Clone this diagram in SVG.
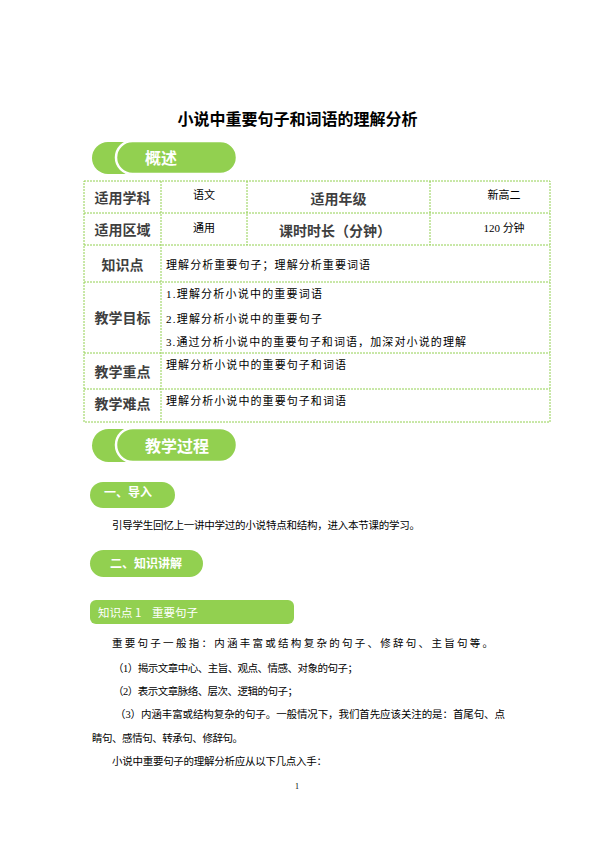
<svg xmlns="http://www.w3.org/2000/svg" width="595" height="842" viewBox="0 0 595 842">
<style>
.bg{fill:#ffffff}
.pill{fill:#92d050}
.ring{fill:#92d050;stroke:#ffffff;stroke-width:2.5}
.ptxt{font-family:"Noto Sans CJK SC","Liberation Sans",sans-serif;font-weight:bold;fill:#ffffff}
.title{font-family:"Noto Sans CJK SC","Liberation Sans",sans-serif;font-weight:bold;font-size:16px;fill:#000000}
.grid{stroke:#92d050;stroke-width:1;stroke-dasharray:2 1;fill:none}
.lab{font-family:"Noto Sans CJK SC","Liberation Sans",sans-serif;font-weight:bold;font-size:14px;fill:#3f3f3f;text-anchor:middle}
.cell{font-family:"Liberation Serif","Noto Sans CJK SC",serif;font-size:11px;fill:#000000}
.body{font-family:"Liberation Serif","Noto Sans CJK SC",serif;font-size:10.5px;fill:#000000}
.kp{font-family:"Noto Sans CJK SC","Liberation Sans",sans-serif;font-size:11.5px;fill:#ffffff}
</style>
<rect class="bg" x="0" y="0" width="595" height="842"/>

<g id="title">
<text class="title" x="297.5" y="125" text-anchor="middle">小说中重要句子和词语的理解分析</text>
</g>

<g id="pill-overview">
<rect class="pill" x="92" y="142" width="80" height="32" rx="16"/>
<rect class="ring" x="116" y="141" width="121" height="33" rx="16.5"/>
<text class="ptxt" x="145" y="164" font-size="16">概述</text>
</g>

<g id="table">
<rect class="grid" x="84" y="181" width="466" height="241"/>
<g class="grid">
<line x1="84" y1="213" x2="550" y2="213"/>
<line x1="84" y1="245" x2="550" y2="245"/>
<line x1="84" y1="282" x2="550" y2="282"/>
<line x1="84" y1="353" x2="550" y2="353"/>
<line x1="84" y1="389" x2="550" y2="389"/>
<line x1="161" y1="181" x2="161" y2="422"/>
<line x1="247" y1="181" x2="247" y2="245"/>
<line x1="430" y1="181" x2="430" y2="245"/>
</g>
<text class="lab" x="122.5" y="203">适用学科</text>
<text class="cell" x="204" y="199" text-anchor="middle">语文</text>
<text class="lab" x="338.5" y="204">适用年级</text>
<text class="cell" x="504" y="199" text-anchor="middle">新高二</text>
<text class="lab" x="122.5" y="235">适用区域</text>
<text class="cell" x="204" y="232" text-anchor="middle">通用</text>
<text class="lab" x="335" y="236">课时时长（分钟）</text>
<text class="cell" x="504" y="232" text-anchor="middle">120 分钟</text>
<text class="lab" x="122.5" y="270">知识点</text>
<text class="cell" x="166" y="269" textLength="204" lengthAdjust="spacing">理解分析重要句子；理解分析重要词语</text>
<text class="lab" x="122.5" y="323">教学目标</text>
<text class="cell" x="166" y="298" textLength="156" lengthAdjust="spacing">1.理解分析小说中的重要词语</text>
<text class="cell" x="166" y="323" textLength="156" lengthAdjust="spacing">2.理解分析小说中的重要句子</text>
<text class="cell" x="166" y="346" textLength="300" lengthAdjust="spacing">3.通过分析小说中的重要句子和词语，加深对小说的理解</text>
<text class="lab" x="122.5" y="377">教学重点</text>
<text class="cell" x="166" y="369" textLength="180" lengthAdjust="spacing">理解分析小说中的重要句子和词语</text>
<text class="lab" x="122.5" y="409">教学难点</text>
<text class="cell" x="166" y="405" textLength="180" lengthAdjust="spacing">理解分析小说中的重要句子和词语</text>
</g>

<g id="pill-process">
<rect class="pill" x="92" y="429" width="80" height="33" rx="16.5"/>
<rect class="ring" x="116" y="428" width="121" height="34" rx="17"/>
<text class="ptxt" x="145" y="452" font-size="16">教学过程</text>
</g>

<g id="pill-intro">
<rect class="pill" x="90" y="482" width="85" height="26" rx="13"/>
<text class="ptxt" x="104" y="497" font-size="12">一、导入</text>
</g>

<g id="intro-text">
<text class="body" x="112" y="529" textLength="308" lengthAdjust="spacing">引导学生回忆上一讲中学过的小说特点和结构，进入本节课的学习。</text>
</g>

<g id="pill-knowledge">
<rect class="pill" x="90" y="550" width="113" height="27" rx="13.5"/>
<text class="ptxt" x="110" y="568" font-size="12">二、知识讲解</text>
</g>

<g id="kp1-header">
<rect class="pill" x="90" y="600" width="204" height="24" rx="6"/>
<text class="kp" y="617"><tspan x="98">知识点</tspan><tspan x="135">1</tspan><tspan x="152">重要句子</tspan></text>
</g>

<g id="kp1-body">
<text class="body" x="112" y="647" textLength="381" lengthAdjust="spacing">重要句子一般指：内涵丰富或结构复杂的句子、修辞句、主旨句等。</text>
<text class="body" x="113" y="672" textLength="245" lengthAdjust="spacing">（1）揭示文章中心、主旨、观点、情感、对象的句子；</text>
<text class="body" x="113" y="695" textLength="185" lengthAdjust="spacing">（2）表示文章脉络、层次、逻辑的句子；</text>
<text class="body" x="115" y="718" textLength="390" lengthAdjust="spacing">（3）内涵丰富或结构复杂的句子。一般情况下，我们首先应该关注的是：首尾句、点</text>
<text class="body" x="92" y="742" textLength="151" lengthAdjust="spacing">睛句、感情句、转承句、修辞句。</text>
<text class="body" x="112" y="765" textLength="215" lengthAdjust="spacing">小说中重要句子的理解分析应从以下几点入手：</text>
</g>

<g id="page-number">
<text x="297" y="789" text-anchor="middle" font-family="'Liberation Serif',serif" font-size="8" fill="#000000">1</text>
</g>
</svg>
